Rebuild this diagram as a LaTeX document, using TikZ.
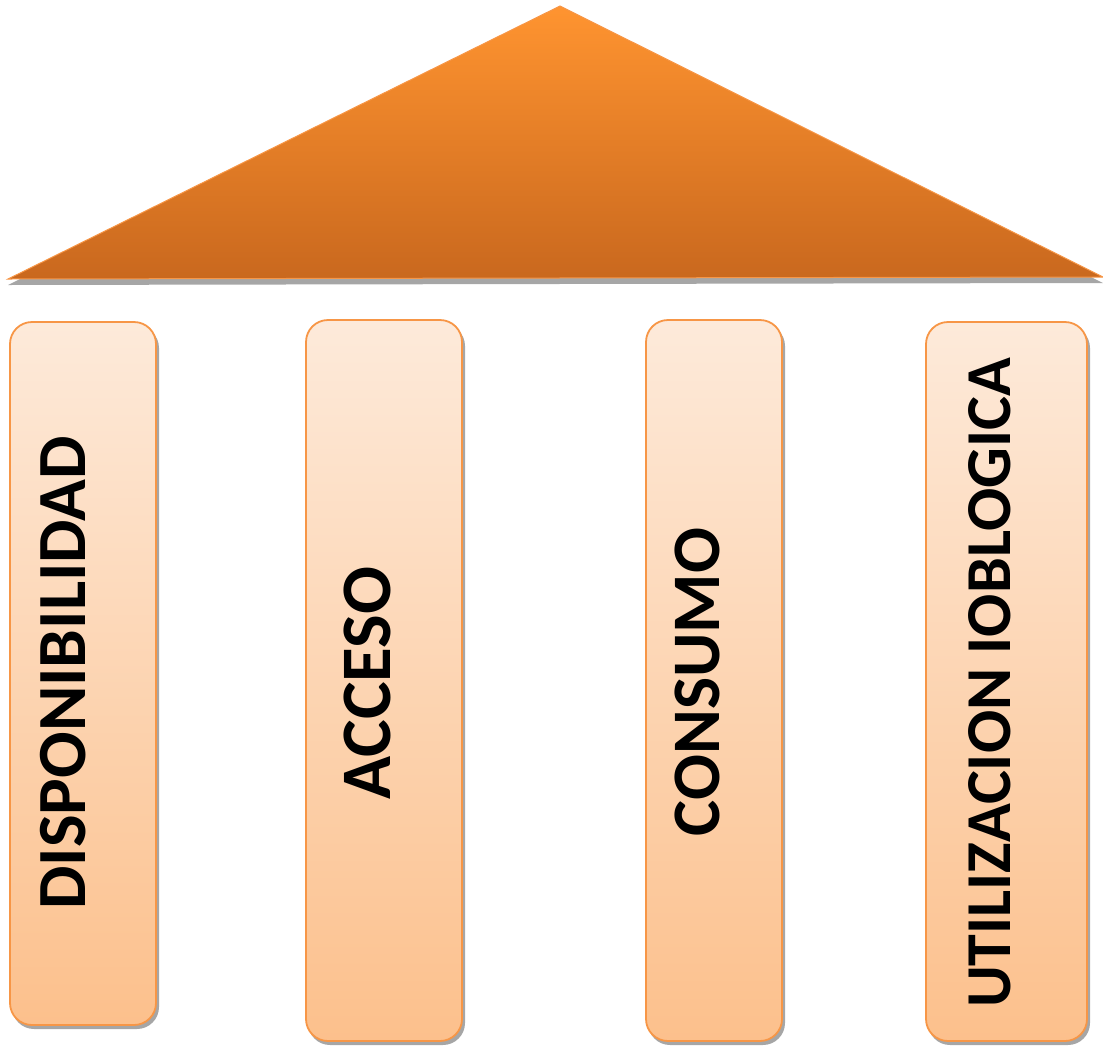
\documentclass[tikz,border=0pt]{standalone}
\usepackage{fontspec}
\setmainfont{Carlito}
\definecolor{techoarriba}{HTML}{FF9430}
\definecolor{techoabajo}{HTML}{C9681E}
\definecolor{pilararriba}{HTML}{FDEADA}
\definecolor{pilarabajo}{HTML}{FCC08C}
\definecolor{borde}{HTML}{F79646}
\definecolor{sombra}{HTML}{A6A6A6}

\tikzset{
  pilar/.style={draw=borde, line width=1.8pt, rounded corners=22pt,
    top color=pilararriba, bottom color=pilarabajo},
  sombrapilar/.style={fill=sombra, rounded corners=22pt},
  texto/.style={rotate=90, inner sep=0pt, font=\bfseries\fontsize{#1}{#1}\selectfont}
}

\begin{document}
\begin{tikzpicture}[x=1pt,y=-1pt]
\useasboundingbox (0,0) rectangle (1103,1045);
% techo
\coordinate (izq) at (8,279);
\coordinate (cima) at (560,6);
\coordinate (der) at (1103,277);
\fill [sombra] ([yshift=-6pt]izq) -- ([yshift=-6pt]cima) -- ([yshift=-6pt]der) -- cycle;
\draw [borde, line width=1pt, top color=techoarriba, bottom color=techoabajo] (izq) -- (cima) -- (der) -- cycle;
% pilares
\fill [sombrapilar] (12,326) rectangle (159,1029);
\draw [pilar] (10,322) rectangle (156,1025);
\fill [sombrapilar] (308,324) rectangle (465,1045);
\draw [pilar] (306,320) rectangle (462,1041);
\fill [sombrapilar] (648,324) rectangle (785,1045);
\draw [pilar] (646,320) rectangle (782,1041);
\fill [sombrapilar] (928,326) rectangle (1090,1045);
\draw [pilar] (926,322) rectangle (1087,1041);
% textos
\node [texto=69] (disponibilidad) at (63,673) {DISPONIBILIDAD};
\node [texto=71] (acceso) at (367,683) {ACCESO};
\node [texto=68] (consumo) at (697,682) {CONSUMO};
\node [texto=64] (utilizacion) at (990,683) {UTILIZACION IOBLOGICA};
\end{tikzpicture}
\end{document}
